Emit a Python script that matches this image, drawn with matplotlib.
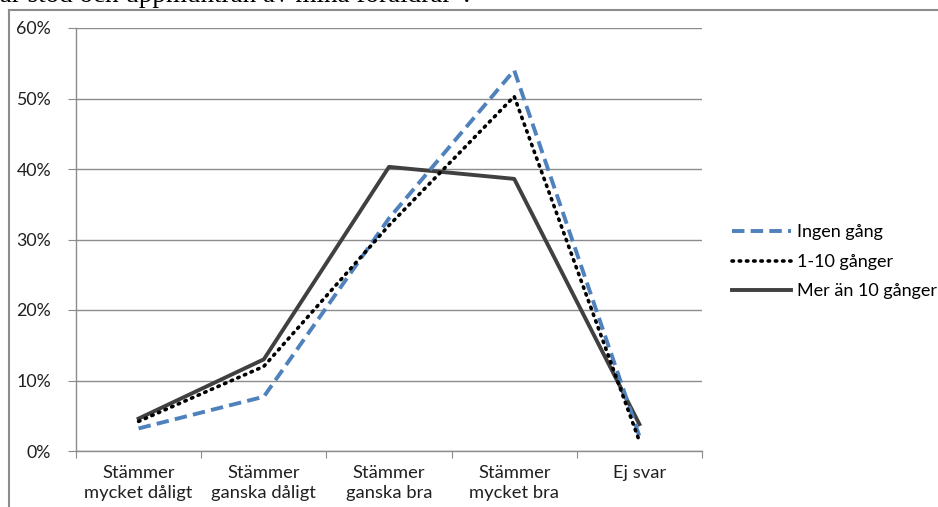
import matplotlib
matplotlib.use("Agg")
import matplotlib.pyplot as plt
from matplotlib.lines import Line2D
from matplotlib.ticker import PercentFormatter

categories = ["Stämmer\nmycket dåligt", "Stämmer\nganska dåligt", "Stämmer\nganska bra",
              "Stämmer\nmycket bra", "Ej svar"]
series_names = ["Ingen gång", "1-10 gånger", "Mer än 10 gånger"]
ingen = [0.032, 0.077, 0.33, 0.54, 0.021]
en_tio = [0.042, 0.120, 0.32, 0.503, 0.014]
mer = [0.046, 0.130, 0.403, 0.386, 0.038]
yticks = [0, 0.1, 0.2, 0.3, 0.4, 0.5, 0.6]
title_text = "har stöd och uppmuntran av mina föräldrar”."

plt.rcParams['font.family'] = ['Lato', 'DejaVu Sans']

fig = plt.figure(figsize=(9.38, 5.07), dpi=100)
ax = fig.add_axes([76/938, 1-451/507, (702-76)/938, (451-28)/507])

x = list(range(len(categories)))
ax.plot(x, ingen, color="#4F81BD", lw=2.8, linestyle=(0, (3.2, 1.6)), label=series_names[0], zorder=3)
ax.plot(x, en_tio, color="black", lw=2.6, linestyle=(0, (0.4, 1.6)), dash_capstyle="round",
        label=series_names[1], zorder=4)
ax.plot(x, mer, color="#404040", lw=2.8, linestyle="-", label=series_names[2], zorder=2)

ax.set_xlim(-0.5, len(categories) - 0.5)
ax.set_ylim(0, 0.6)
ax.set_yticks(yticks)
ax.yaxis.set_major_formatter(PercentFormatter(1.0, decimals=0))
ax.set_xticks([i - 0.5 for i in range(len(categories) + 1)], minor=False)
ax.set_xticklabels([])
ax.set_xticks(x, minor=True)
ax.set_xticklabels(categories, minor=True, fontsize=13.2, color="#202020", linespacing=1.3)
ax.tick_params(axis="x", which="minor", length=0, pad=10)
ax.tick_params(axis="x", which="major", length=5, color="#8c8c8c", direction="out")
ax.tick_params(axis="y", length=6, color="#8c8c8c", direction="out", pad=12, labelsize=12.8,
               labelcolor="#202020")
ax.grid(axis="y", color="#8c8c8c", lw=1)
ax.set_axisbelow(True)
for s in ["top", "right"]:
    ax.spines[s].set_visible(False)
for s in ["left", "bottom"]:
    ax.spines[s].set_color("#8c8c8c")
    ax.spines[s].set_linewidth(1)

ax.legend(loc="center left", bbox_to_anchor=(1.036, 0.447), frameon=False, fontsize=13,
          handlelength=3.3, handletextpad=0.3, labelspacing=0.75, borderaxespad=0)

# document frame lines
fig.add_artist(Line2D([9/938, 1], [1-10/507, 1-10/507], color="#8c8c8c", lw=1.5))
fig.add_artist(Line2D([9/938, 9/938], [0, 1-10/507], color="#8c8c8c", lw=1.5))

fig.text(-14/938, 1-2/507, title_text, family=["Liberation Serif"], fontsize=19.5,
         va="baseline", ha="left", color="black")

fig.savefig("out.png", dpi=100)
